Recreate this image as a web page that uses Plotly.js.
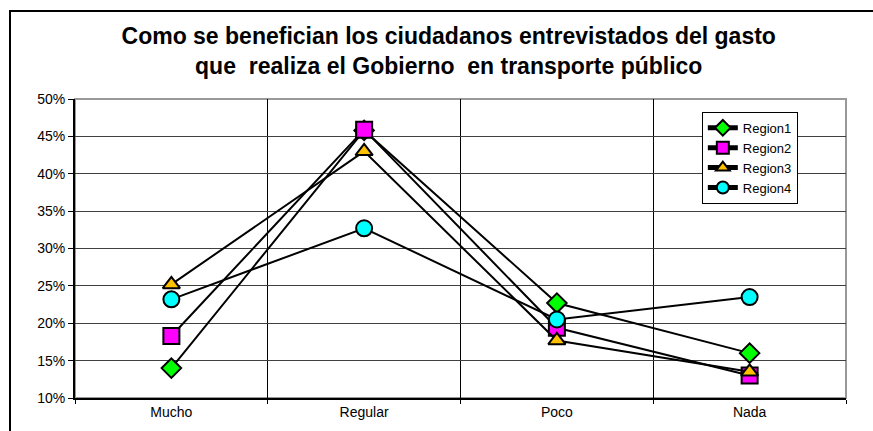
<!DOCTYPE html>
<html>
<head>
<meta charset="utf-8">
<script src="https://cdn.plot.ly/plotly-3.0.1.min.js"></script>
<style>
  html, body { margin: 0; padding: 0; background: #fff; }
  #chart { width: 873px; height: 431px; }
</style>
</head>
<body>
<div id="chart"></div>
<script>
// categories + values (fractions)
var categorias = ['Mucho', 'Regular', 'Poco', 'Nada'];
var region1 = [0.140, 0.458, 0.227, 0.160];
var region2 = [0.183, 0.459, 0.194, 0.130];
var region3 = [0.252, 0.430, 0.177, 0.135];
var region4 = [0.232, 0.327, 0.205, 0.235];
var nombres = ['Region1', 'Region2', 'Region3', 'Region4'];

var series = [region1, region2, region3, region4];
var simbolos = ['diamond', 'square', 'triangle-up', 'circle'];
var colores = ['#00ff00', '#ff00ff', '#ffc000', '#00ffff'];
var tamanos = [15, 16, 15, 16];

var data = series.map(function (vals, i) {
    return {
        x: categorias,
        y: vals,
        name: nombres[i],
        type: 'scatter',
        mode: 'lines+markers',
        line: {color: '#000', width: 2},
        marker: {
            symbol: simbolos[i],
            color: colores[i],
            size: tamanos[i],
            line: {color: '#000', width: 2}
        }
    };
});

var font = 'Arial, "Liberation Sans", sans-serif';

var layout = {
    width: 873,
    height: 431,
    margin: {l: 75, r: 27, t: 99, b: 33},
    paper_bgcolor: '#fff',
    plot_bgcolor: '#fff',
    font: {family: font, color: '#000', size: 12},
    showlegend: true,
    title: {
        text: '<b>Como se benefician los ciudadanos entrevistados del gasto<br>que  realiza el Gobierno  en transporte público</b>',
        font: {family: font, size: 23, color: '#000'},
        x: 0.514,
        xanchor: 'center',
        yref: 'container',
        y: 0.897,
        yanchor: 'middle'
    },
    xaxis: {
        type: 'category',
        range: [-0.5, 3.5],
        tickson: 'boundaries',
        ticks: 'outside',
        ticklen: 4,
        tickcolor: '#000',
        showgrid: true,
        gridcolor: '#000',
        gridwidth: 1,
        showline: true,
        linecolor: '#000',
        linewidth: 2,
        tickfont: {family: font, size: 14, color: '#000'},
        fixedrange: true
    },
    yaxis: {
        range: [0.1, 0.5],
        dtick: 0.05,
        tickformat: '.0%',
        ticks: 'outside',
        ticklen: 5,
        tickcolor: '#000',
        tickwidth: 1,
        showgrid: true,
        gridcolor: '#404040',
        gridwidth: 1,
        showline: true,
        linecolor: '#000',
        linewidth: 2,
        zeroline: false,
        tickfont: {family: font, size: 14, color: '#000'},
        fixedrange: true
    },
    legend: {
        x: 0.813,
        y: 0.957,
        xanchor: 'left',
        yanchor: 'top',
        bgcolor: '#fff',
        bordercolor: '#000',
        borderwidth: 1,
        font: {family: font, size: 13, color: '#000'},
        itemsizing: 'constant',
        tracegroupgap: 0
    },
    shapes: [
        // gray frame on top/right of plot area
        {type: 'rect', xref: 'paper', yref: 'paper', x0: 0, x1: 1, y0: 0, y1: 1,
         line: {color: '#999', width: 2}, layer: 'below'},
        // outer chart frame
        {type: 'rect', xref: 'paper', yref: 'paper', x0: -0.0843, x1: 1.2, y0: -0.3, y1: 1.294,
         line: {color: '#000', width: 2}, layer: 'below'}
    ]
};

Plotly.newPlot('chart', data, layout, {displayModeBar: false, staticPlot: true});
</script>
</body>
</html>
